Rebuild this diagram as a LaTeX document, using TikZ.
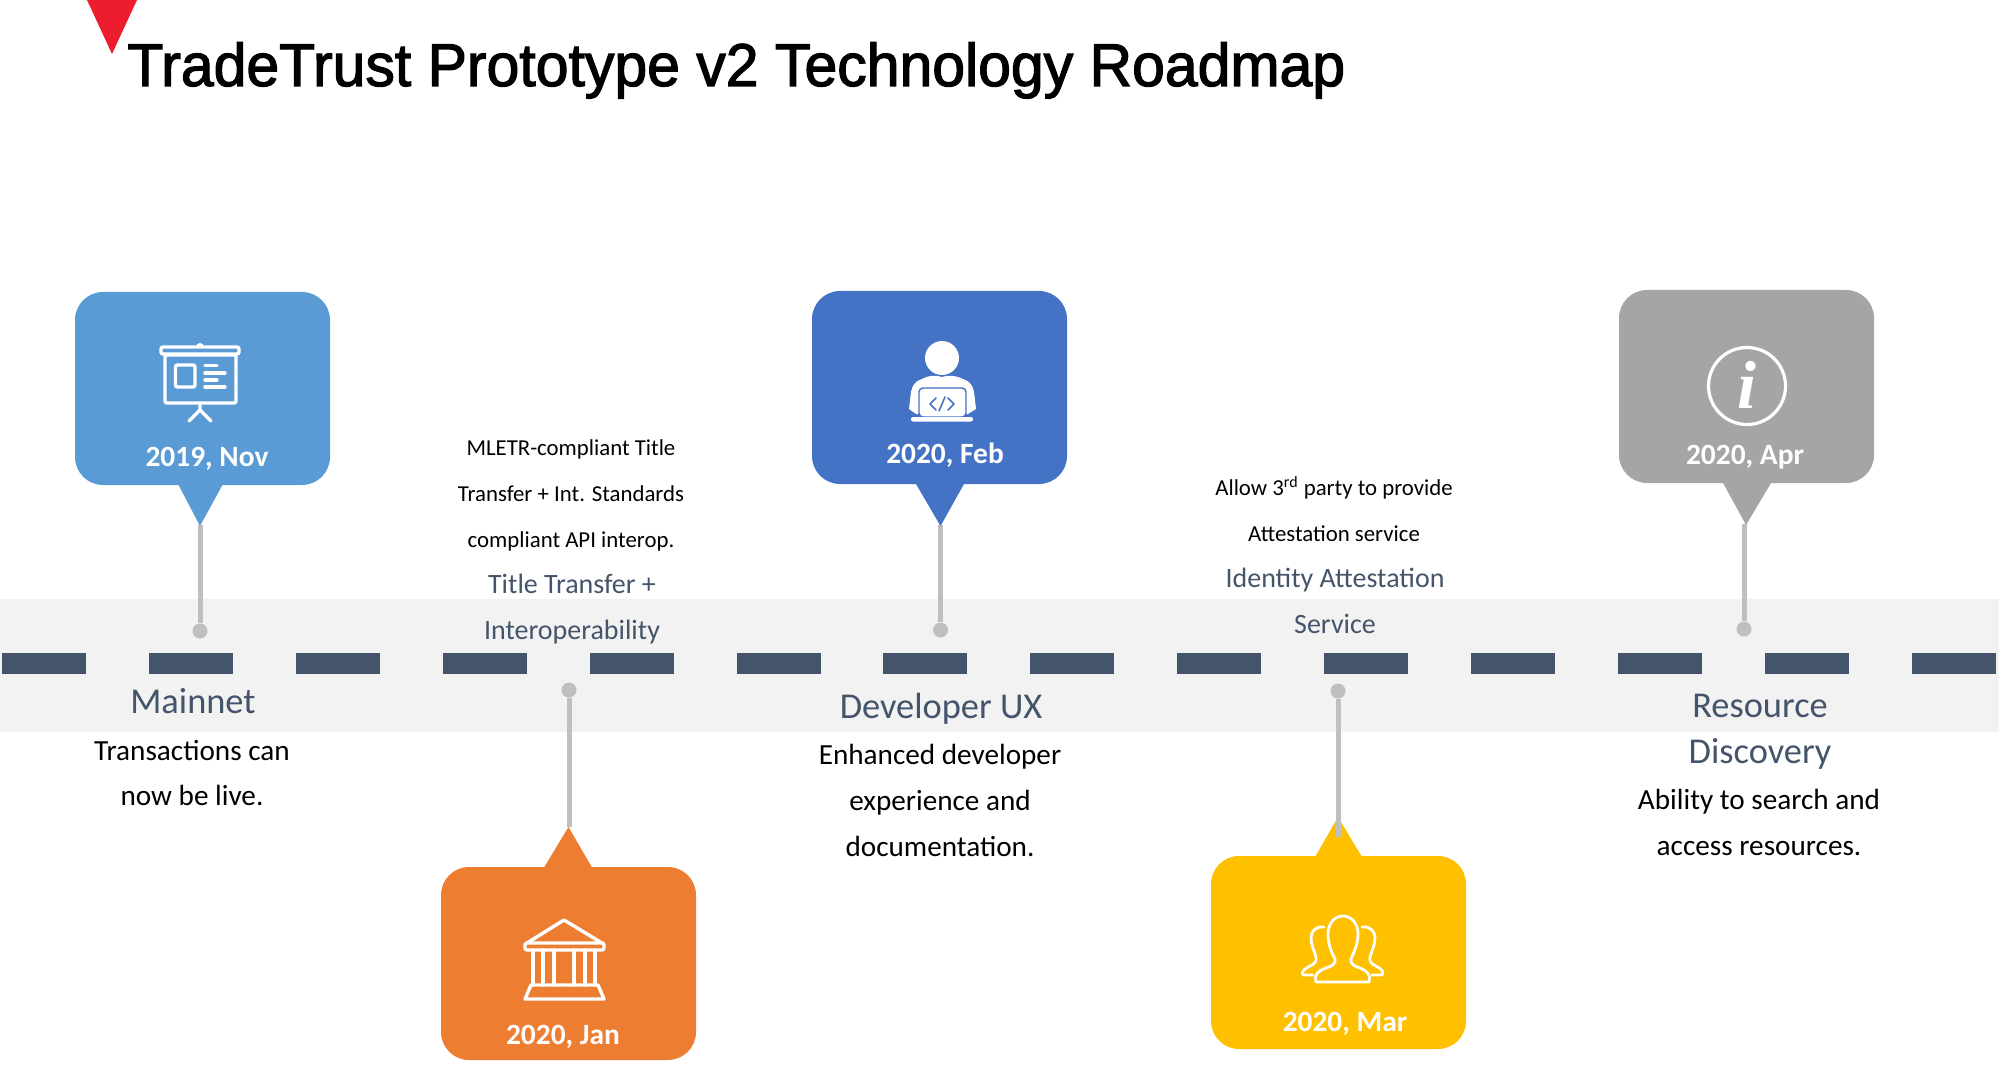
\documentclass[tikz,border=0pt]{standalone}
\usepackage{fontspec}
\setmainfont{Carlito}
\newfontfamily\titlefont[FakeBold=2,FakeStretch=0.976]{Liberation Sans}
\newfontfamily\infofont{Liberation Serif}
\definecolor{cNov}{HTML}{5B9BD5}
\definecolor{cFeb}{HTML}{4472C4}
\definecolor{cJan}{HTML}{ED7D31}
\definecolor{cMar}{HTML}{FFC000}
\definecolor{cApr}{HTML}{A5A5A5}
\definecolor{cBand}{HTML}{F2F2F2}
\definecolor{cDash}{HTML}{44546A}
\definecolor{cLine}{HTML}{BFBFBF}
\definecolor{cRed}{HTML}{ED1C2E}
\tikzset{
  bubble/.style={rectangle,rounded corners=14pt,minimum width=127.5pt,minimum height=96.5pt,inner sep=0pt,draw=none},
  datelabel/.style={anchor=base,inner sep=0pt,text=white,font=\fontsize{14.7}{17}\selectfont\bfseries},
  headsmall/.style={anchor=base,inner sep=0pt,text=cDash,font=\fontsize{14}{17}\selectfont},
  headbig/.style={anchor=base,inner sep=0pt,text=cDash,font=\fontsize{18.2}{22}\selectfont},
  bodysmall/.style={anchor=base,inner sep=0pt,text=black,font=\fontsize{11.4}{14}\selectfont},
  bodybig/.style={anchor=base,inner sep=0pt,text=black,font=\fontsize{14.6}{18}\selectfont},
  dashbar/.style={rectangle,fill=cDash,inner sep=0pt,minimum width=42pt,minimum height=10.5pt,draw=none},
  pin/.style={circle,fill=cLine,inner sep=0pt,minimum size=7.5pt,draw=none},
  stem/.style={draw=cLine,line width=2.5pt},
  icon/.style={draw=white,line width=1.7pt,line join=round,line cap=round},
}
\begin{document}
\begin{tikzpicture}[x=0.5pt,y=-0.5pt]
\useasboundingbox (0,0) rectangle (2011,1069);
% band
\fill[cBand] (0,599) rectangle (1999,732);
% dashes
\foreach \i in {0,...,13} {
  \node[dashbar] (dash\i) at ({44+146.9*\i},663.5) {};
}
% title
\fill[cRed] (87,0) -- (137,0) -- (112,54) -- cycle;
\node[anchor=base west,inner sep=0pt,text=black,font=\titlefont\fontsize{30.2}{36}\selectfont] (title) at (127,86) {TradeTrust Prototype v2 Technology Roadmap};

% pins and stems
\node[pin] (pinNov) at (200,631) {};
\node[pin] (pinJan) at (569,690) {};
\node[pin] (pinFeb) at (940.5,630) {};
\node[pin] (pinMar) at (1338,691) {};
\node[pin] (pinApr) at (1744,629) {};
\coordinate (tipNov) at (200,525);
\coordinate (tipJan) at (569,827);
\coordinate (tipFeb) at (940.5,525);
\coordinate (endMar) at (1338,837);
\coordinate (tipApr) at (1744,524);
\draw[stem] (pinNov) -- (tipNov);
\draw[stem] (pinJan) -- (tipJan);
\draw[stem] (pinFeb) -- (tipFeb);
\draw[stem] (pinApr) -- (tipApr);

% bubbles
\fill[cNov] (178,484) -- (200,526) -- (223,484) -- cycle;
\node[bubble,fill=cNov] (boxNov) at (202.5,388.5) {};
\fill[cFeb] (916,484) -- (940.5,526) -- (964,484) -- cycle;
\node[bubble,fill=cFeb] (boxFeb) at (939.5,387.5) {};
\fill[cApr] (1723,483) -- (1746,525) -- (1771,483) -- cycle;
\node[bubble,fill=cApr] (boxApr) at (1746.5,386.5) {};
\fill[cJan] (544,867.5) -- (568.5,827) -- (592,867.5) -- cycle;
\node[bubble,fill=cJan] (boxJan) at (568.5,963.5) {};
\fill[cMar] (1315,857) -- (1338,817) -- (1362,857) -- cycle;
\node[bubble,fill=cMar] (boxMar) at (1338.5,952.5) {};
\draw[stem] (pinMar) -- (endMar);

% dates
\node[datelabel] (dNov) at (207,466) {2019, Nov};
\node[datelabel] (dFeb) at (945,463) {2020, Feb};
\node[datelabel] (dJan) at (563,1044) {2020, Jan};
\node[datelabel] (dMar) at (1345,1031) {2020, Mar};
\node[datelabel] (dApr) at (1745,464) {2020, Apr};

% Nov icon
\begin{scope}[icon]
  \fill[white] (200,347) circle (4);
  \draw[fill=cNov,rounded corners=1pt] (161,347) rectangle (239,354);
  \draw[rounded corners=1pt] (165,355) rectangle (236,403);
  \draw[rounded corners=1pt] (175.5,365) rectangle (195,387);
  \draw (205,365.5) -- (217,365.5);
  \draw (205,373) -- (225,373);
  \draw (205,380) -- (217,380);
  \draw (205,387) -- (225,387);
  \draw (200,403) -- (200,410) -- (189,421);
  \draw (200,410) -- (211,421);
\end{scope}

% Feb icon
\fill[white] (942,358) circle (17);
\fill[white] (922,379) .. controls (930,375) and (934,375) .. (942,377) .. controls (950,375) and (954,375) .. (963,379)
  .. controls (970,381) and (973,386) .. (974,392) -- (976,409) -- (968,414) -- (916,414) -- (909,409) -- (911,392)
  .. controls (912,386) and (915,381) .. (922,379) -- cycle;
\draw[cFeb,line width=0.7pt,rounded corners=2pt,fill=white] (919,388) rectangle (966,417);
\fill[white,rounded corners=1pt] (911,417) rectangle (973,421.5);
\begin{scope}[draw=cFeb,line width=0.8pt,line cap=round,line join=round]
  \draw (936,398) -- (930,404) -- (936,410);
  \draw (948,398) -- (954,404) -- (948,410);
  \draw (945,397) -- (939,411);
\end{scope}

% Jan icon
\begin{scope}[icon]
  \draw (527,943) -- (564,920) -- (602,943);
  \draw[rounded corners=1pt] (525,943) rectangle (604,950);
  \foreach \cx in {533,543,554,574,585,595} { \draw (\cx,950) -- (\cx,985); }
  \draw (531,985) -- (598,985) -- (604,999) -- (525,999) -- cycle;
\end{scope}

% Mar icon
\begin{scope}[icon,line width=1.4pt]
  \draw (1316,982) .. controls (1314,974) and (1318,971) .. (1326,968)
    .. controls (1332,966) and (1336,964) .. (1335,959)
    .. controls (1330,950) and (1328,942) .. (1328,934)
    .. controls (1328,923) and (1335,916) .. (1343,916)
    .. controls (1351,916) and (1358,923) .. (1358,934)
    .. controls (1358,942) and (1355,950) .. (1351,959)
    .. controls (1350,964) and (1354,966) .. (1360,968)
    .. controls (1367,971) and (1371,974) .. (1369,982) -- cycle;
  \draw (1324,927) .. controls (1315,926) and (1311,932) .. (1311,938)
    .. controls (1311,945) and (1314,950) .. (1316,957)
    .. controls (1317,962) and (1314,964) .. (1310,966)
    .. controls (1304,969) and (1301,972) .. (1303,975) -- (1313,975);
  \draw (1362,927) .. controls (1371,926) and (1375,932) .. (1375,938)
    .. controls (1375,945) and (1372,950) .. (1370,957)
    .. controls (1369,962) and (1372,964) .. (1376,966)
    .. controls (1382,969) and (1384,972) .. (1382,975) -- (1372,975);
\end{scope}

% Apr icon
\draw[draw=white,line width=1.6pt] (1747,386) circle (38.5);
\node[inner sep=0pt,text=white,font=\infofont\fontsize{34}{34}\selectfont\bfseries\itshape] (iApr) at (1747,385) {i};

% headings and texts
\node[headbig] (hNov) at (193,713.3) {Mainnet};
\node[bodybig] (b1a) at (192,760.3) {Transactions can};
\node[bodybig] (b1b) at (192,805.3) {now be live.};

\node[bodysmall] (s1a) at (571,455.5) {MLETR-compliant Title};
\node[bodysmall] (s1b) at (571,501.5) {Transfer + Int. Standards};
\node[bodysmall] (s1c) at (571,547.5) {compliant API interop.};
\node[headsmall] (hJana) at (572,593.3) {Title Transfer +};
\node[headsmall] (hJanb) at (572,639.3) {Interoperability};

\node[headbig] (hFeb) at (941,718.5) {Developer UX};
\node[bodybig] (b3a) at (940,764.3) {Enhanced developer};
\node[bodybig] (b3b) at (940,810.3) {experience and};
\node[bodybig] (b3c) at (940,856.3) {documentation.};

\node[bodysmall] (s2a) at (1334,495.3) {Allow 3\textsuperscript{rd} party to provide};
\node[bodysmall] (s2b) at (1334,541.3) {Attestation service};
\node[headsmall] (hMara) at (1335,587.3) {Identity Attestation};
\node[headsmall] (hMarb) at (1335,633.3) {Service};

\node[headbig] (hApra) at (1760,717.3) {Resource};
\node[headbig] (hAprb) at (1760,763.3) {Discovery};
\node[bodybig] (b5a) at (1759,809.3) {Ability to search and};
\node[bodybig] (b5b) at (1759,855.3) {access resources.};
\end{tikzpicture}
\end{document}
